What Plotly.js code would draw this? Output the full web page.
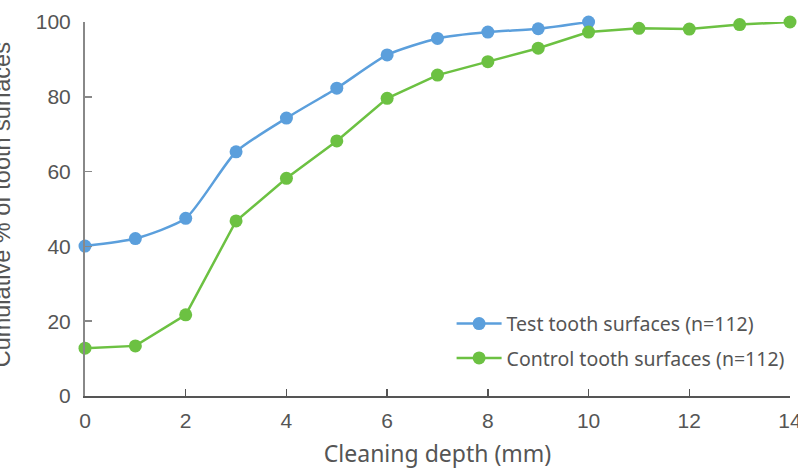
<!DOCTYPE html>
<html>
<head>
<meta charset="utf-8">
<script src="https://cdn.plot.ly/plotly-3.0.1.min.js"></script>
<style>html,body{margin:0;padding:0;background:#fff;}#chart{width:798px;height:469px;}</style>
</head>
<body>
<div id="chart"></div>
<script>
const depthTest = [0,1,2,3,4,5,6,7,8,9,10];
const cumTest = [40.1,42.1,47.5,65.3,74.3,82.3,91.2,95.6,97.3,98.2,100];
const depthControl = [0,1,2,3,4,5,6,7,8,9,10,11,12,13,14];
const cumControl = [12.8,13.4,21.7,46.8,58.2,68.2,79.6,85.8,89.4,93.0,97.3,98.3,98.1,99.3,100];
const xTicks = [0,2,4,6,8,10,12,14];
const yTicks = [0,20,40,60,80,100];
const seriesNames = ["Test tooth surfaces (n=112)","Control tooth surfaces (n=112)"];
const xTitle = "Cleaning depth (mm)";
const yTitle = "Cumulative % of tooth surfaces";

const blue = "#5b9fdc", green = "#6cc142";
const traces = [
  {x: depthTest, y: cumTest, name: seriesNames[0], type: "scatter", mode: "lines+markers",
   line: {color: blue, width: 2.5, shape: "spline", smoothing: 0.6},
   marker: {color: blue, size: 13}, legendgroup: "a", cliponaxis: false},
  {x: depthControl, y: cumControl, name: seriesNames[1], type: "scatter", mode: "lines+markers",
   line: {color: green, width: 2.5},
   marker: {color: green, size: 13}, legendgroup: "b", cliponaxis: false}
];
const tickFont = {family: "Liberation Sans, Arial, sans-serif", size: 21, color: "#555"};
const layout = {
  width: 798, height: 469,
  margin: {l: 85, r: 8, t: 22, b: 73},
  paper_bgcolor: "#fff", plot_bgcolor: "#fff",
  showlegend: true,
  legend: {x: 0.52, y: 0.245, xanchor: "left", yanchor: "top", traceorder: "grouped", tracegroupgap: 6, itemwidth: 45,
           font: {family: "Noto Sans, sans-serif", size: 19.5, color: "#555"}, bgcolor: "rgba(0,0,0,0)"},
  xaxis: {range: [0,14], tickvals: xTicks, ticktext: xTicks.map(String), showgrid: false, zeroline: false,
          showline: true, linecolor: "#555", linewidth: 1.5, ticks: "inside", ticklen: 7, tickcolor: "#555", tickwidth: 1.5,
          tickfont: tickFont, ticklabelstandoff: 5, ticklabeloverflow: "allow",
          title: {text: xTitle, font: {family: "Noto Sans, sans-serif", size: 23, color: "#555"}, standoff: 21}},
  yaxis: {range: [0,100], tickvals: yTicks, ticktext: yTicks.map(String), showgrid: false, zeroline: false,
          showline: true, linecolor: "#888", linewidth: 2, ticks: "inside", ticklen: 7, tickcolor: "#888", tickwidth: 1.5,
          tickfont: tickFont, ticklabelstandoff: 8},
  annotations: [{text: yTitle, xref: "paper", yref: "paper", x: -0.118, y: 0.512, xanchor: "center", yanchor: "middle",
                 textangle: -90, showarrow: false, font: {family: "Liberation Sans, Arial, sans-serif", size: 23.5, color: "#555"}}]
};
Plotly.newPlot("chart", traces, layout, {staticPlot: true, displayModeBar: false});
</script>
</body>
</html>
